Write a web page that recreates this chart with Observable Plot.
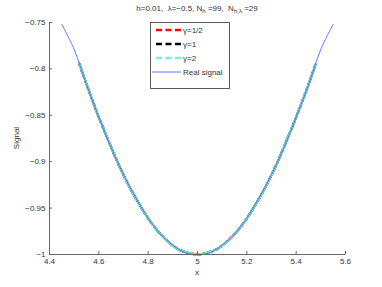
<!DOCTYPE html>
<html><head><meta charset="utf-8">
<script src="https://cdn.jsdelivr.net/npm/d3@7"></script>
<script src="https://cdn.jsdelivr.net/npm/@observablehq/plot@0.6"></script>
<style>
body{margin:0;background:#fff;}
#chart svg{font-family:"Liberation Sans",Arial,sans-serif;}
</style>
</head><body><div id="chart"></div>
<script>
// Real signal
const realX = [4.45,4.50,4.55,4.60,4.65,4.70,4.75,4.80,4.85,4.90,4.95,5.00,5.05,5.10,5.15,5.20,5.25,5.30,5.35,5.40,5.45,5.50,5.55];
const realY = [-0.752,-0.779,-0.817,-0.852,-0.885,-0.914,-0.939,-0.961,-0.978,-0.990,-0.998,-1.000,-0.998,-0.990,-0.978,-0.961,-0.939,-0.914,-0.885,-0.852,-0.817,-0.779,-0.752];
// Approximations (gamma series)
const approxX = [4.52,4.56,4.60,4.64,4.68,4.72,4.76,4.80,4.84,4.88,4.92,4.96,5.00,5.04,5.08,5.12,5.16,5.20,5.24,5.28,5.32,5.36,5.40,5.44,5.48];
const gammaHalfY = [-0.794,-0.824,-0.852,-0.878,-0.903,-0.925,-0.944,-0.961,-0.975,-0.986,-0.994,-0.998,-1.000,-0.998,-0.994,-0.986,-0.975,-0.961,-0.944,-0.925,-0.903,-0.878,-0.852,-0.824,-0.794];
const gammaOneY  = [-0.794,-0.824,-0.852,-0.878,-0.903,-0.925,-0.944,-0.961,-0.975,-0.986,-0.994,-0.998,-1.000,-0.998,-0.994,-0.986,-0.975,-0.961,-0.944,-0.925,-0.903,-0.878,-0.852,-0.824,-0.794];
const gammaTwoY  = [-0.794,-0.824,-0.852,-0.878,-0.903,-0.925,-0.944,-0.961,-0.975,-0.986,-0.994,-0.998,-1.000,-0.998,-0.994,-0.986,-0.975,-0.961,-0.944,-0.925,-0.903,-0.878,-0.852,-0.824,-0.794];
const xTicks = [4.4,4.6,4.8,5,5.2,5.4,5.6];
const yTicks = [-1,-0.95,-0.9,-0.85,-0.8,-0.75];
const seriesNames = ["γ=1/2","γ=1","γ=2","Real signal"];
const seriesColors = ["#ff0000","#000000","#6ff5d6","#4a66ff"];

const real = realX.map((x,i)=>({x, y: realY[i]}));
const mk = ys => approxX.map((x,i)=>({x, y: ys[i]}));
const sHalf = mk(gammaHalfY), sOne = mk(gammaOneY), sTwo = mk(gammaTwoY);

const W = 382, H = 287, mL = 49, mR = 37, mT = 22, mB = 33;
const frameW = W - mL - mR, frameH = H - mT - mB;
const axisColor = "#666";

const plot = Plot.plot({
  width: W, height: H,
  marginLeft: mL, marginRight: mR, marginTop: mT, marginBottom: mB,
  style: {fontSize: "8px", fontFamily: "Liberation Sans, Arial, sans-serif", color: "#333", background: "#fff"},
  x: {domain: [4.4, 5.6], ticks: xTicks, tickFormat: d => String(d), label: null},
  y: {domain: [-1, -0.75], ticks: yTicks, tickFormat: d => String(d).replace("-", "\u2212"), label: null},
  marks: [
    Plot.line(sHalf, {x: "x", y: "y", stroke: seriesColors[0], strokeWidth: 2.4, strokeDasharray: "3,3", curve: "catmull-rom"}),
    Plot.line(sOne, {x: "x", y: "y", stroke: seriesColors[1], strokeWidth: 2.2, strokeDasharray: "4,2", curve: "catmull-rom"}),
    Plot.line(sTwo, {x: "x", y: "y", stroke: seriesColors[2], strokeWidth: 2.4, strokeDasharray: "4,2", curve: "catmull-rom"}),
    Plot.line(real, {x: "x", y: "y", stroke: seriesColors[3], strokeWidth: 0.9, clip: true, curve: "catmull-rom"}),
    Plot.ruleY([-1], {stroke: axisColor}),
    Plot.ruleX([4.4], {stroke: axisColor}),
    Plot.ruleX(xTicks, {x: d => d, stroke: axisColor, insetTop: frameH - 3}),
    Plot.ruleY(yTicks, {y: d => d, stroke: axisColor, insetRight: frameW - 3}),
    Plot.axisX({ticks: xTicks, tickSize: 0, tickPadding: 4, tickFormat: d => String(d), label: null, fill: "#333"}),
    Plot.axisY({ticks: yTicks, tickSize: 0, tickPadding: 4, tickFormat: d => String(d).replace("-", "\u2212"), label: null, fill: "#333"})
  ]
});
document.getElementById("chart").appendChild(plot);

const svg = d3.select(plot);
const font = "Liberation Sans, Arial, sans-serif";
// Title
const t = svg.append("text").attr("x", mL + frameW/2).attr("y", 11).attr("text-anchor", "middle")
  .attr("font-size", 8).attr("font-family", font).attr("fill", "#333");
t.append("tspan").text("h=0.01,  λ=\u22120.5, N");
t.append("tspan").attr("font-size", 6).attr("dy", 2).text("h");
t.append("tspan").attr("dy", -2).text(" =99,  N");
t.append("tspan").attr("font-size", 6).attr("dy", 2).text("h,λ");
t.append("tspan").attr("dy", -2).text(" =29");
// Axis labels
svg.append("text").attr("x", mL + frameW/2).attr("y", 275).attr("text-anchor", "middle")
  .attr("font-size", 8).attr("font-family", font).attr("fill", "#333").text("x");
svg.append("text").attr("transform", `translate(19,${mT + frameH/2}) rotate(-90)`).attr("text-anchor", "middle")
  .attr("font-size", 8).attr("font-family", font).attr("fill", "#333").text("Signal");
// Legend
const lg = svg.append("g");
lg.append("rect").attr("x", 150.5).attr("y", 22.5).attr("width", 79).attr("height", 66)
  .attr("fill", "#fff").attr("stroke", "#333").attr("stroke-width", 0.8);
seriesNames.forEach((name, i) => {
  const yy = 30 + i * 14;
  lg.append("line").attr("x1", i < 3 ? 156 : 152).attr("x2", 181).attr("y1", yy).attr("y2", yy)
    .attr("stroke", seriesColors[i]).attr("stroke-width", i < 3 ? 2.5 : 0.9)
    .attr("stroke-dasharray", i < 3 ? "6,3.5" : null);
  lg.append("text").attr("x", 183).attr("y", yy + 3).attr("text-anchor", "start").attr("font-size", 8).attr("font-family", font)
    .attr("fill", "#333").text(name);
});
</script></body></html>
